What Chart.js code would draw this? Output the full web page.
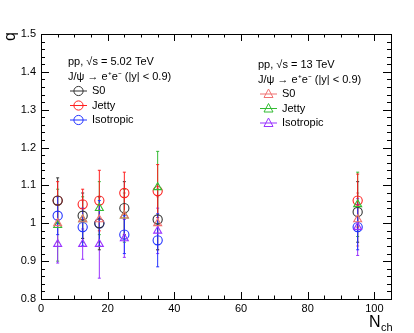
<!DOCTYPE html>
<html>
<head>
<meta charset="utf-8">
<script src="https://cdn.jsdelivr.net/npm/chart.js@4.4.0/dist/chart.umd.min.js"></script>
<style>
  html, body { margin: 0; padding: 0; background: #fff; }
  #wrap { width: 414px; height: 333px; }
</style>
</head>
<body>
<div id="wrap"><canvas id="c" width="414" height="333"></canvas></div>
<script>
// N_ch bins (same for all series)
const nch = [5, 12.5, 17.5, 25, 35, 95]

// pp 5.02 TeV (circles)
const s0Low = [1.06, 1.02, 1.0, 1.04, 1.01, 1.03]
const s0LowErr = [0.06, 0.06, 0.07, 0.07, 0.08, 0.08]
const jettyLow = [1.06, 1.05, 1.06, 1.08, 1.085, 1.06]
const jettyLowErr = [0.05, 0.04, 0.08, 0.055, 0.07, 0.07]
const isoLow = [1.02, 0.99, 1.0, 0.97, 0.955, 0.99]
const isoLowErr = [0.05, 0.05, 0.06, 0.05, 0.07, 0.06]

// pp 13 TeV (triangles)
const s0High = [1.0, 1.01, 1.01, 1.02, 1.0, 1.01]
const s0HighErr = [0.05, 0.05, 0.06, 0.06, 0.07, 0.07]
const jettyHigh = [0.995, 1.01, 1.04, 1.02, 1.095, 1.05]
const jettyHighErr = [0.095, 0.06, 0.07, 0.07, 0.095, 0.085]
const isoHigh = [0.945, 0.945, 0.945, 0.96, 0.98, 0.99]
const isoHighErr = [0.05, 0.04, 0.09, 0.05, 0.06, 0.075]

const xTicks = [0, 20, 40, 60, 80, 100]
const yTicks = [0.8, 0.9, 1.0, 1.1, 1.2, 1.3, 1.4, 1.5]
const yTickLabels = ['0.8', '0.9', '1', '1.1', '1.2', '1.3', '1.4', '1.5']

const FONT = '"Liberation Sans", Arial, sans-serif'

const mk = (label, ys, errs, color, style) => ({
  label,
  data: nch.map((x, i) => ({ x, y: ys[i] })),
  errs,
  borderColor: color,
  backgroundColor: 'rgba(0,0,0,0)',
  pointStyle: style,
  pointRadius: 4.6,
  pointHoverRadius: 4.6,
  pointBorderWidth: 1.1,
  showLine: false
})

const series = [
  mk('S0', s0High, s0HighErr, '#f07070', 'triangle'),
  mk('Jetty', jettyHigh, jettyHighErr, '#33bb33', 'triangle'),
  mk('Isotropic', isoHigh, isoHighErr, '#9933ff', 'triangle'),
  mk('S0', s0Low, s0LowErr, '#333333', 'circle'),
  mk('Jetty', jettyLow, jettyLowErr, '#ff2020', 'circle'),
  mk('Isotropic', isoLow, isoLowErr, '#2233ff', 'circle')
]

const errorBars = {
  id: 'errorBars',
  beforeDatasetsDraw (chart) {
    const ctx = chart.ctx
    const xs = chart.scales.x
    const ys = chart.scales.y
    ctx.save()
    ctx.lineWidth = 1
    chart.data.datasets.forEach(ds => {
      ctx.strokeStyle = ds.borderColor
      ds.data.forEach((p, i) => {
        const px = xs.getPixelForValue(p.x)
        const top = ys.getPixelForValue(p.y + ds.errs[i])
        const bot = ys.getPixelForValue(p.y - ds.errs[i])
        ctx.beginPath()
        ctx.moveTo(px, top); ctx.lineTo(px, bot)
        ctx.moveTo(px - 1.5, top); ctx.lineTo(px + 1.5, top)
        ctx.moveTo(px - 1.5, bot); ctx.lineTo(px + 1.5, bot)
        ctx.stroke()
      })
    })
    ctx.restore()
  }
}

// ROOT-like frame with inward ticks on all sides, titles and text legends
const frame = {
  id: 'frame',
  afterDraw (chart) {
    const ctx = chart.ctx
    const a = chart.chartArea
    const xs = chart.scales.x
    const ys = chart.scales.y
    ctx.save()
    ctx.strokeStyle = '#000'
    ctx.lineWidth = 1
    ctx.strokeRect(Math.round(a.left) + 0.5, Math.round(a.top) + 0.5, Math.round(a.right - a.left), Math.round(a.bottom - a.top))
    ctx.beginPath()
    for (let v = 0; v <= 105; v += 5) {
      const px = Math.round(xs.getPixelForValue(v)) + 0.5
      const len = v % 20 === 0 ? 7 : 3.5
      ctx.moveTo(px, a.bottom); ctx.lineTo(px, a.bottom - len)
      ctx.moveTo(px, a.top); ctx.lineTo(px, a.top + len)
    }
    for (let k = 0; k <= 35; k++) {
      const v = 0.8 + k * 0.02
      const py = Math.round(ys.getPixelForValue(v)) + 0.5
      const len = k % 5 === 0 ? 8 : 4
      ctx.moveTo(a.left, py); ctx.lineTo(a.left + len, py)
      ctx.moveTo(a.right, py); ctx.lineTo(a.right - len, py)
    }
    ctx.stroke()

    // axis titles
    ctx.fillStyle = '#000'
    ctx.font = '16px ' + FONT
    ctx.save()
    ctx.translate(15, 41)
    ctx.rotate(-Math.PI / 2)
    ctx.textAlign = 'left'
    ctx.textBaseline = 'alphabetic'
    ctx.fillText('q', 0, 0)
    ctx.restore()
    ctx.textAlign = 'left'
    ctx.textBaseline = 'alphabetic'
    ctx.fillText('N', 369, 327)
    ctx.font = '11px ' + FONT
    ctx.fillText('ch', 381, 331)

    // legends
    const legend = (x, y, title, entries) => {
      ctx.font = '11px ' + FONT
      ctx.fillStyle = '#000'
      ctx.textBaseline = 'middle'
      ctx.fillText(title[0], x, y)
      ctx.fillText(title[1], x, y + 15)
      entries.forEach((ds, i) => {
        const ey = y + 29 + i * 14.5
        ctx.strokeStyle = ds.borderColor
        ctx.lineWidth = 1
        ctx.beginPath()
        ctx.moveTo(x + 2, ey); ctx.lineTo(x + 19, ey)
        ctx.stroke()
        ctx.beginPath()
        if (ds.pointStyle === 'circle') {
          ctx.arc(x + 10.5, ey, 4.6, 0, Math.PI * 2)
        } else {
          ctx.moveTo(x + 10.5, ey - 5); ctx.lineTo(x + 15, ey + 3.5); ctx.lineTo(x + 6, ey + 3.5); ctx.closePath()
        }
        ctx.stroke()
        ctx.fillStyle = '#000'
        ctx.fillText(ds.label, x + 24, ey)
      })
    }
    legend(68, 62, ['pp, \u221As = 5.02 TeV', 'J/\u03C8 \u2192 e\u207Ae\u207B (|y| < 0.9)'], series.slice(3))
    legend(258, 65, ['pp, \u221As = 13 TeV', 'J/\u03C8 \u2192 e\u207Ae\u207B (|y| < 0.9)'], series.slice(0, 3))
    ctx.restore()
  }
}

new Chart(document.getElementById('c'), {
  type: 'scatter',
  data: { datasets: series },
  options: {
    responsive: false,
    animation: false,
    devicePixelRatio: 1,
    layout: { padding: { top: 34, right: 23, left: 0, bottom: 0 } },
    plugins: { legend: { display: false }, tooltip: { enabled: false } },
    scales: {
      x: {
        type: 'linear',
        min: 0,
        max: 105,
        afterBuildTicks: s => { s.ticks = xTicks.map(v => ({ value: v })) },
        afterFit: s => { s.height = 34 },
        grid: { display: false, drawTicks: false },
        border: { display: false },
        ticks: { color: '#000', font: { family: FONT, size: 11 }, padding: 3, maxRotation: 0 }
      },
      y: {
        type: 'linear',
        min: 0.8,
        max: 1.5,
        afterBuildTicks: s => { s.ticks = yTicks.map(v => ({ value: v })) },
        afterFit: s => { s.width = 41 },
        grid: { display: false, drawTicks: false },
        border: { display: false },
        ticks: {
          color: '#000',
          font: { family: FONT, size: 11 },
          padding: 5,
          callback: (v, i) => yTickLabels[i]
        }
      }
    }
  },
  plugins: [errorBars, frame]
})
</script>
</body>
</html>
